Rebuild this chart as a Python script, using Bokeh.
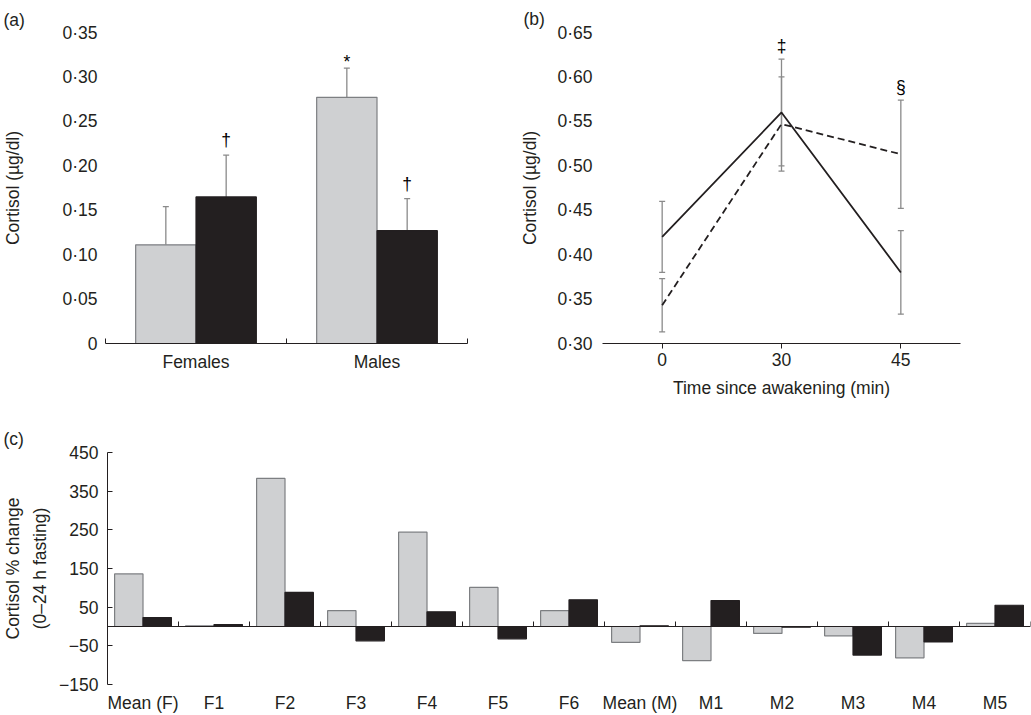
from bokeh.plotting import figure
from bokeh.models import (ColumnDataSource, FixedTicker, CustomJSTickFormatter, Whisker,
                          TeeHead, LinearAxis, FactorRange, Range1d)
from bokeh.layouts import column, row
from bokeh.embed import file_html
from bokeh.resources import INLINE
from bokeh.core.properties import value

FONT = "Liberation Sans"
TXT = "#231f20"
GREY = "#cfd0d2"
GREY_LINE = "#7d7f82"
BLACK = "#231f20"
ERR = "#8a8a8a"
FS = "17.5px"

# ---------------- data ----------------
# (a)
a_groups = ["Females", "Males"]
a_grey = [0.111, 0.277]
a_grey_se = [0.043, 0.033]
a_black = [0.165, 0.127]
a_black_se = [0.047, 0.036]
a_grey_mark = ["", "*"]
a_black_mark = ["†", "†"]
a_yticks = [0, 0.05, 0.10, 0.15, 0.20, 0.25, 0.30, 0.35]

# (b)
b_times = ["0", "30", "45"]
b_solid = [0.42, 0.56, 0.38]
b_solid_se = [0.040, 0.060, 0.047]
b_dash = [0.343, 0.547, 0.513]
b_dash_se = [0.030, 0.053, 0.061]
b_marks = ["", "‡", "§"]
b_yticks = [0.30, 0.35, 0.40, 0.45, 0.50, 0.55, 0.60, 0.65]

# (c)
c_labels = ["Mean (F)", "F1", "F2", "F3", "F4", "F5", "F6",
            "Mean (M)", "M1", "M2", "M3", "M4", "M5"]
c_grey = [136, 2, 383, 41, 244, 101, 41, -41, -88, -18, -24, -81, 8]
c_black = [23, 5, 88, -37, 38, -32, 69, 2, 67, -2, -74, -40, 55]
c_yticks = [-150, -50, 50, 150, 250, 350, 450]


def base_fig(**kw):
    p = figure(output_backend="svg", toolbar_location=None, **kw)
    p.xgrid.visible = False
    p.ygrid.visible = False
    p.outline_line_color = None
    p.background_fill_color = "white"
    p.border_fill_color = "white"
    p.title.text_font = FONT
    p.title.text_font_size = FS
    p.title.text_font_style = "normal"
    p.title.text_color = TXT
    p.title.align = "left"
    return p


def style_axis(ax):
    ax.major_label_text_font = FONT
    ax.major_label_text_font_size = FS
    ax.major_label_text_color = TXT
    ax.axis_label_text_font = FONT
    ax.axis_label_text_font_size = FS
    ax.axis_label_text_color = TXT
    ax.axis_label_text_font_style = "normal"
    ax.axis_line_color = TXT
    ax.major_tick_line_color = TXT
    ax.minor_tick_line_color = TXT


dec0_fmt = CustomJSTickFormatter(code="""
if (Math.abs(tick) < 1e-9) { return "0"; }
return tick.toFixed(2).replace(".", "\u00b7");
""")
dec_fmt = CustomJSTickFormatter(code="""
return tick.toFixed(2).replace(".", "\u00b7");
""")
minus_fmt = CustomJSTickFormatter(code="""
return tick < 0 ? "\u2212" + Math.abs(tick) : "" + tick;
""")


def cat_fmt(labels):
    return CustomJSTickFormatter(args=dict(labels=labels),
                                 code="var i = Math.floor(tick); return (i >= 0 && i < labels.length) ? labels[i] : '';")


# ---------------- (a) ----------------
na = len(a_groups)
src_a = ColumnDataSource(dict(
    xg=[i + 0.5 - 1 / 6 for i in range(na)],
    xb=[i + 0.5 + 1 / 6 for i in range(na)],
    grey=a_grey, black=a_black,
    grey_top=[v + e for v, e in zip(a_grey, a_grey_se)],
    black_top=[v + e for v, e in zip(a_black, a_black_se)],
    gm=a_grey_mark, bm=a_black_mark,
))

pa = base_fig(width=500, height=410, x_range=Range1d(0, na), y_range=Range1d(0, 0.35),
              min_border_left=105, min_border_right=33, min_border_top=31, min_border_bottom=67)
pa.title.text = "(a)"
pa.title.offset = -102
pa.title.standoff = 5

pa.vbar(x="xg", top="grey", bottom=0, width=1 / 3, fill_color=GREY, line_color=GREY_LINE,
        line_width=1.2, source=src_a)
pa.vbar(x="xb", top="black", bottom=0, width=1 / 3, fill_color=BLACK, line_color=BLACK,
        line_width=1.2, source=src_a)
for xc, lo, hi in (("xg", "grey", "grey_top"), ("xb", "black", "black_top")):
    pa.add_layout(Whisker(base=xc, lower=lo, upper=hi, source=src_a, line_color=ERR, line_width=1.3,
                          upper_head=TeeHead(size=6, line_color=ERR, line_width=1.3), lower_head=None))
pa.text(x="xg", y="grey_top", text="gm", source=src_a, text_align="center", text_baseline="alphabetic",
        y_offset=-6, text_font=value(FONT), text_font_size=FS, text_color="black")
pa.text(x="xb", y="black_top", text="bm", source=src_a, text_align="center", text_baseline="alphabetic",
        y_offset=-15, text_font=value(FONT), text_font_size=FS, text_color="black")

ax = pa.xaxis[0]
style_axis(ax)
ax.ticker = FixedTicker(ticks=[i + 0.5 for i in range(na)], minor_ticks=list(range(na + 1)))
ax.formatter = cat_fmt(a_groups)
ax.major_tick_line_color = None
ax.major_tick_in = 0
ax.major_tick_out = 0
ax.minor_tick_in = 5
ax.minor_tick_out = 0
ax.major_label_standoff = 8

ay = pa.yaxis[0]
style_axis(ay)
ay.ticker = FixedTicker(ticks=a_yticks)
ay.formatter = dec0_fmt
ay.axis_line_color = None
ay.major_tick_line_color = None
ay.major_tick_in = 0
ay.major_tick_out = 0
ay.major_label_standoff = 8
ay.axis_label = "Cortisol (µg/dl)"
ay.axis_label_standoff = 36

# ---------------- (b) ----------------
src_b = ColumnDataSource(dict(
    t=b_times, s=b_solid, d=b_dash,
    s_lo=[v - e for v, e in zip(b_solid, b_solid_se)],
    s_hi=[v + e for v, e in zip(b_solid, b_solid_se)],
    d_lo=[v - e for v, e in zip(b_dash, b_dash_se)],
    d_hi=[v + e for v, e in zip(b_dash, b_dash_se)],
    top=[max(a + e, b + f) for a, e, b, f in zip(b_solid, b_solid_se, b_dash, b_dash_se)],
    m=b_marks,
))

pb = base_fig(width=531, height=410, x_range=FactorRange(factors=b_times, range_padding=0),
              y_range=Range1d(0.30, 0.65),
              min_border_left=102, min_border_right=71, min_border_top=32, min_border_bottom=67)
pb.title.text = "(b)"
pb.title.offset = -79
pb.title.standoff = 7

for lo, hi in (("s_lo", "s_hi"), ("d_lo", "d_hi")):
    pb.add_layout(Whisker(base="t", lower=lo, upper=hi, source=src_b, line_color=ERR, line_width=1.3,
                          upper_head=TeeHead(size=6, line_color=ERR, line_width=1.3),
                          lower_head=TeeHead(size=6, line_color=ERR, line_width=1.3)))
pb.line(x="t", y="s", source=src_b, line_color=TXT, line_width=1.8)
pb.line(x="t", y="d", source=src_b, line_color=TXT, line_width=1.8, line_dash="7 4")
pb.text(x="t", y="top", text="m", source=src_b, text_align="center", text_baseline="alphabetic",
        y_offset=-13, text_font=value(FONT), text_font_size=FS, text_color="black")

bx = pb.xaxis[0]
style_axis(bx)
bx.major_tick_in = 0
bx.major_tick_out = 5
bx.major_label_standoff = 4
bx.axis_label = "Time since awakening (min)"
bx.axis_label_standoff = 9

by = pb.yaxis[0]
style_axis(by)
by.ticker = FixedTicker(ticks=b_yticks)
by.formatter = dec_fmt
by.axis_line_color = None
by.major_tick_line_color = None
by.major_tick_in = 0
by.major_tick_out = 0
by.major_label_standoff = 10
by.axis_label = "Cortisol (µg/dl)"
by.axis_label_standoff = 14

# ---------------- (c) ----------------
nc = len(c_labels)
src_c = ColumnDataSource(dict(
    xg=[i + 0.5 - 0.2 for i in range(nc)],
    xb=[i + 0.5 + 0.2 for i in range(nc)],
    grey=c_grey, black=c_black,
))

pc = base_fig(width=1031, height=305, x_range=Range1d(0, nc), y_range=Range1d(-150, 450),
              min_border_left=106, min_border_right=1, min_border_top=42, min_border_bottom=28)
pc.title.text = "(c)"
pc.title.offset = -104
pc.title.standoff = 7

pc.vbar(x="xg", top="grey", bottom=0, width=0.4, fill_color=GREY, line_color=GREY_LINE,
        line_width=1.2, source=src_c)
pc.vbar(x="xb", top="black", bottom=0, width=0.4, fill_color=BLACK, line_color=BLACK,
        line_width=1.2, source=src_c)

cx = pc.xaxis[0]
style_axis(cx)
cx.ticker = FixedTicker(ticks=[i + 0.5 for i in range(nc)])
cx.formatter = cat_fmt(c_labels)
cx.axis_line_color = None
cx.major_tick_line_color = None
cx.major_tick_in = 0
cx.major_tick_out = 0
cx.major_label_standoff = 8

zero_ax = LinearAxis(fixed_location=0, ticker=FixedTicker(ticks=[], minor_ticks=list(range(nc + 1))))
style_axis(zero_ax)
zero_ax.major_tick_line_color = None
zero_ax.major_tick_in = 0
zero_ax.major_tick_out = 0
zero_ax.minor_tick_in = 5
zero_ax.minor_tick_out = 0
zero_ax.major_label_text_font_size = "0px"
pc.add_layout(zero_ax, "below")

cy = pc.yaxis[0]
style_axis(cy)
cy.ticker = FixedTicker(ticks=c_yticks)
cy.formatter = minus_fmt
cy.major_tick_in = 5
cy.major_tick_out = 0
cy.major_label_standoff = 9
cy.axis_label = "Cortisol % change\n(0–24 h fasting)"
cy.axis_label_text_line_height = 1.35
cy.axis_label_standoff = 6

root = column(row(pa, pb, spacing=0), pc, spacing=0)

open("out.html", "w").write(file_html(root, INLINE))
